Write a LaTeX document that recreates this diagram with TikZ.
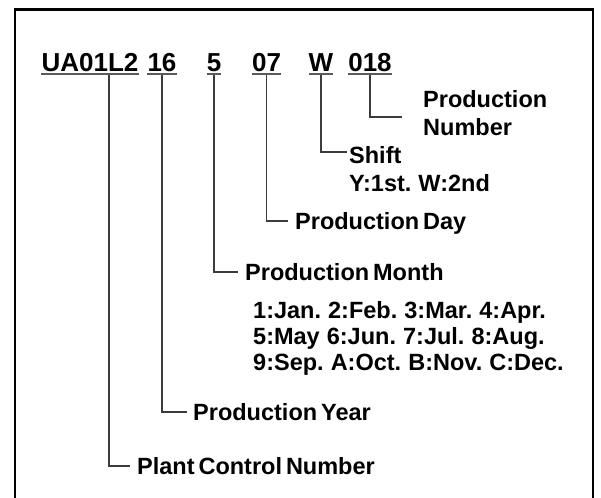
\documentclass[tikz,border=0pt]{standalone}
\usepackage{fontspec}
\setmainfont{Liberation Sans}
\usepackage{tikz}
\usetikzlibrary{calc, positioning}
\usepackage{xcolor}
\definecolor{colLine}{RGB}{60, 60, 60}
\definecolor{colUline}{RGB}{90, 90, 90}

\begin{document}
\begin{tikzpicture}[
  x=1pt, y=-1pt,
  code/.style={font=\fontsize{26}{30}\selectfont\bfseries, inner sep=0pt,
               anchor=base},
  lab/.style={font=\fontsize{23.5}{28}\selectfont\bfseries, inner sep=0pt,
              text height=16.8pt, text depth=0pt, anchor=west},
  note/.style={lab},
  uline/.style={draw=colUline, line width=2pt},
  link/.style={draw=colLine, line width=1.3pt}
]
\useasboundingbox (0,0) rectangle (601,497);

% ---------- Cadre ----------
\draw[line width=2.5pt] (15,500) -- (15,9.5) -- (593,9.5) -- (593,500);

% ---------- Code ----------
\node[code] (c1) at (90,72)    {UA01L2};
\node[code] (c2) at (162,72)   {16};
\node[code] (c3) at (214,72)   {5};
\node[code] (c4) at (266.5,72) {07};
\node[code] (c5) at (321,72)   {W};
\node[code] (c6) at (370,72)   {018};

% ---------- Soulignements ----------
\foreach \c in {c1,c2,c3,c4,c5,c6}
  \draw[uline] ([yshift=-2.5pt]\c.base west) -- ([yshift=-2.5pt]\c.base east);

% ---------- Libellés ----------
\node[lab, align=left] (pn) at (423,127) {Production\\Number};
\node[lab] (sh) at (349,155) {Shift};
\node[note] (shn) at (349,183) {Y:1st.\hspace{0.3em}W:2nd};
\node[lab] (pd) at (295,221) {Production\,Day};
\node[lab] (pm) at (245,272) {Production\,Month};
\node[note] (m1) at (253,310) {1:Jan.\hspace{0.3em}2:Feb.\hspace{0.3em}3:Mar.\hspace{0.3em}4:Apr.};
\node[note] (m2) at (253,336) {5:May\hspace{0.3em}6:Jun.\hspace{0.3em}7:Jul.\hspace{0.3em}8:Aug.};
\node[note] (m3) at (253,362) {9:Sep.\hspace{0.3em}A:Oct.\hspace{0.3em}B:Nov.\hspace{0.3em}C:Dec.};
\node[lab] (py) at (193,412) {Production\,Year};
\node[lab] (pc) at (137,466) {Plant\,Control\,Number};

% ---------- Liaisons ----------
\draw[link] ([xshift=19pt,yshift=-3pt]c1.base) |- ([xshift=-7pt]pc.west);
\draw[link] ([yshift=-3pt]c2.base) |- ([xshift=-6pt]py.west);
\draw[link] ([yshift=-3pt]c3.base) |- ([xshift=-7pt]pm.west);
\draw[link] ([yshift=-3pt]c4.base) |- ([xshift=-7pt]pd.west);
\draw[link] ([yshift=-3pt]c5.base) |- ([xshift=-2pt,yshift=3pt]sh.west);
\draw[link] ([yshift=-3pt]c6.base) |- ([xshift=-21pt,yshift=10pt]pn.west);

\end{tikzpicture}
\end{document}
